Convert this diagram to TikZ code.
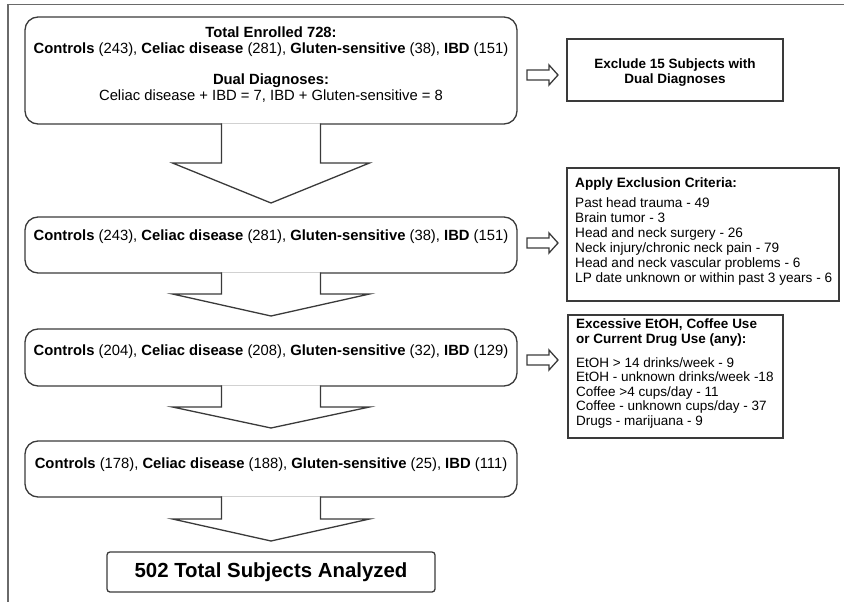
\documentclass[tikz,border=0pt]{standalone}
\usepackage{fontspec}
\setmainfont{Liberation Sans}
\usetikzlibrary{calc}
\definecolor{linegray}{HTML}{3A3A3A}
\definecolor{framegray}{HTML}{6A6A6A}
\tikzset{
  stage/.style={draw=linegray, line width=1.3pt, rounded corners=13pt,
                minimum width=492pt, inner sep=0pt, outer sep=0pt},
  side/.style={draw=linegray, line width=1.6pt, inner sep=0pt, outer sep=0pt},
  rowtxt/.style={font=\fontsize{14.8}{16}\selectfont, align=center, inner sep=0pt},
  sidehead/.style={font=\bfseries\fontsize{13.5}{15}\selectfont, align=center, inner sep=0pt},
  sidelist/.style={font=\fontsize{13.6}{15}\selectfont, align=left, inner sep=0pt,
                   anchor=north west},
  bigarr/.style={draw=linegray, line width=1.3pt, fill=white, line join=miter},
  smallarr/.style={draw=linegray, line width=1.3pt, line join=miter},
}
\newcommand{\groups}[4]{\textbf{Controls} (#1), \textbf{Celiac disease} (#2),
  \textbf{Gluten-sensitive} (#3), \textbf{IBD} (#4)}
\newcommand{\flowdown}[3]{%
  \draw[bigarr] ($(#1.south)+(-49.5,-0.7)$) -- ++(0,#2+0.7) -- ++(-49,0)
    -- ($(#1.south)+(0,#2+#3)$) -- ($(#1.south)+(98.5,#2)$) -- ++(-49,0)
    -- ($(#1.south)+(49.5,-0.7)$);}
\newcommand{\sidearrow}[1]{%
  \draw[smallarr] ($(#1)+(0,-5)$) -- ++(22,0) -- ++(0,-5) -- ++(9,10)
    -- ++(-9,10) -- ++(0,-5) -- ++(-22,0) -- cycle;}

\begin{document}
\begin{tikzpicture}[x=1pt, y=-1pt]
  \useasboundingbox (0,0) rectangle (844,602);
  \draw[framegray, line width=1.2pt] (8,602) -- (8,4.5) -- (844,4.5);

  % stages
  \node[stage, minimum height=107pt] (enrolled) at (271,70.5) {};
  \node[stage, minimum height=56pt] (afterdual) at (271,245) {};
  \node[stage, minimum height=57pt] (aftercrit) at (271,357.5) {};
  \node[stage, minimum height=56pt] (afteruse) at (271,469) {};
  \node[draw=linegray, line width=1.3pt, rounded corners=3pt, minimum width=328pt,
        minimum height=40pt, font=\bfseries\fontsize{20.4}{24}\selectfont]
        (analyzed) at (271,572) {502 Total Subjects Analyzed};

  \flowdown{enrolled}{39}{40}
  \flowdown{afterdual}{21}{22}
  \flowdown{aftercrit}{21}{21}
  \flowdown{afteruse}{22}{22}

  \node[rowtxt] (enrolledtxt) at (271,65) {\textbf{Total Enrolled 728:}\\
    \groups{243}{281}{38}{151}\\[15pt]
    \textbf{Dual Diagnoses:}\\
    Celiac disease + IBD = 7, IBD + Gluten-sensitive = 8};
  \node[rowtxt] (afterdualtxt) at (271,237) {\groups{243}{281}{38}{151}};
  \node[rowtxt] (aftercrittxt) at (271,352) {\groups{204}{208}{32}{129}};
  \node[rowtxt] (afterusetxt) at (271,465) {\groups{178}{188}{25}{111}};

  % exclusions
  \node[side, minimum width=216pt, minimum height=62pt] (exdual) at (675,70) {};
  \node[side, minimum width=272pt, minimum height=133pt] (excrit) at (703,234.5) {};
  \node[side, minimum width=215pt, minimum height=123pt] (exuse) at (675.5,376.5) {};

  \node[sidehead] (exdualtxt) at (675,73) {Exclude 15 Subjects with\\Dual Diagnoses};
  \node[sidelist] (excrittxt) at (575,177) {\textbf{Apply Exclusion Criteria:}\\[5pt]
    Past head trauma - 49\\
    Brain tumor - 3\\
    Head and neck surgery - 26\\
    Neck injury/chronic neck pain - 79\\
    Head and neck vascular problems - 6\\
    LP date unknown or within past 3 years - 6};
  \node[sidelist, font=\fontsize{13.5}{14.5}\selectfont] (exusetxt) at (576,319)
    {\textbf{Excessive EtOH, Coffee Use}\\
    \textbf{or Current Drug Use (any):}\\[9.5pt]
    EtOH > 14 drinks/week - 9\\
    EtOH - unknown drinks/week -18\\
    Coffee >4 cups/day - 11\\
    Coffee - unknown cups/day - 37\\
    Drugs - marijuana - 9};

  \coordinate (todual) at (527,75);
  \coordinate (tocrit) at (527,243);
  \coordinate (touse) at (527,360);
  \sidearrow{todual}
  \sidearrow{tocrit}
  \sidearrow{touse}
\end{tikzpicture}
\end{document}
